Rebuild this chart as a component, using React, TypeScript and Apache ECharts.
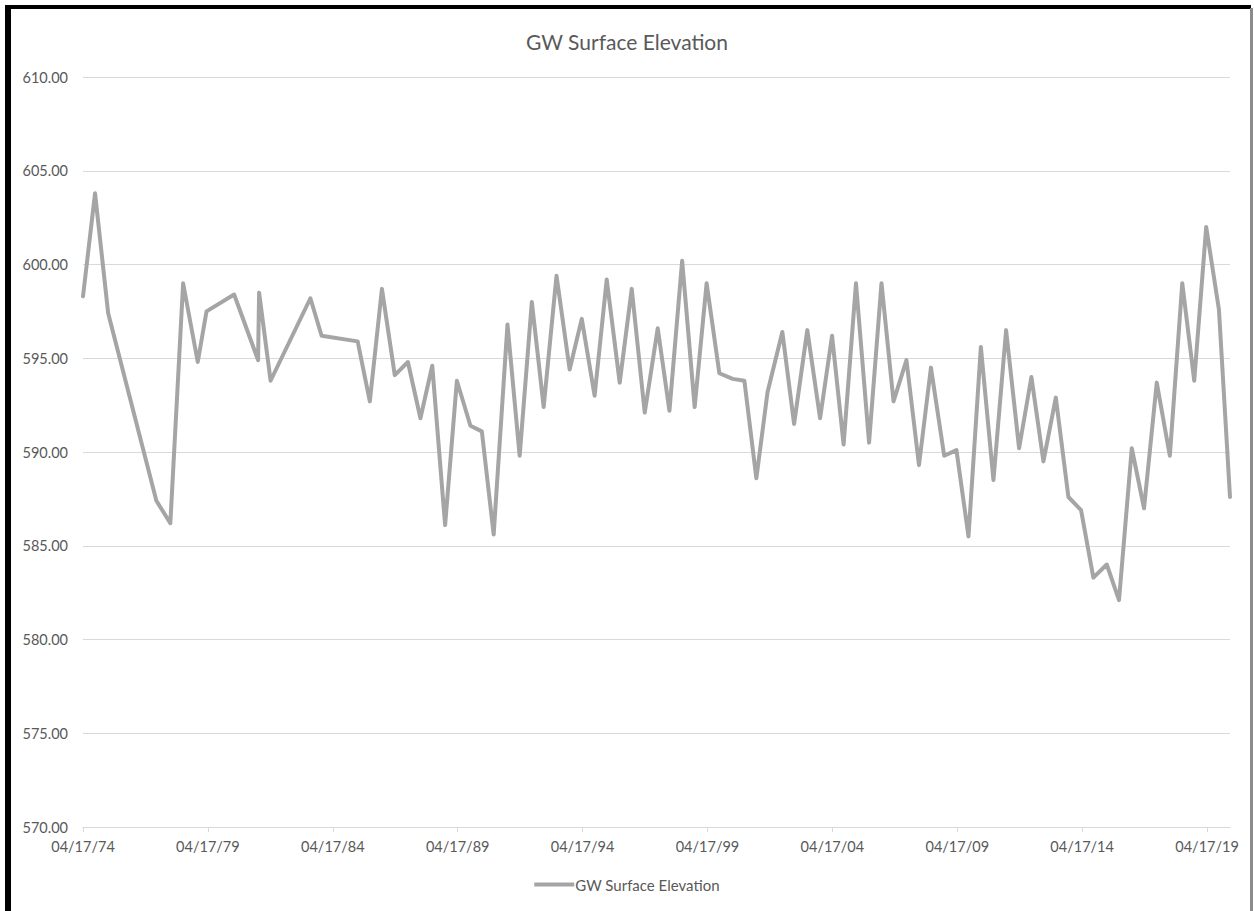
import React, { useEffect, useRef } from "react";
import * as echarts from "echarts";

const TITLE = "GW Surface Elevation";
const SERIES_NAME = "GW Surface Elevation";

const dates: string[] = [
  "1974-04-17", "1974-10-10", "1975-04-20", "1977-03-25", "1977-10-15",
  "1978-04-20", "1978-11-20", "1979-03-28", "1980-05-05", "1981-04-20",
  "1981-05-05", "1981-10-20", "1983-05-25", "1983-11-05", "1985-04-15",
  "1985-10-10", "1986-04-05", "1986-10-10", "1987-04-20", "1987-10-20",
  "1988-04-10", "1988-10-15", "1989-04-05", "1989-10-20", "1990-04-05",
  "1990-09-25", "1991-04-15", "1991-10-10", "1992-04-05", "1992-09-25",
  "1993-04-01", "1993-10-10", "1994-04-05", "1994-10-10", "1995-04-05",
  "1995-10-12", "1996-04-05", "1996-10-12", "1997-04-20", "1997-10-08",
  "1998-04-12", "1998-10-12", "1999-04-05", "1999-10-08", "2000-04-20",
  "2000-10-08", "2001-04-01", "2001-09-12", "2002-04-16", "2002-10-05",
  "2003-04-16", "2003-10-20", "2004-04-12", "2004-09-28", "2005-03-28",
  "2005-10-05", "2006-04-05", "2006-09-28", "2007-04-05", "2007-10-05",
  "2008-03-28", "2008-10-08", "2009-04-05", "2009-09-28", "2010-03-28",
  "2010-09-28", "2011-04-01", "2011-10-08", "2012-04-05", "2012-09-28",
  "2013-03-28", "2013-09-28", "2014-04-01", "2014-09-28", "2015-04-12",
  "2015-10-08", "2016-04-12", "2016-10-08", "2017-04-12", "2017-10-20",
  "2018-04-20", "2018-10-12", "2019-04-05", "2019-10-08", "2020-03-18",
];

const elevations: number[] = [
  598.3, 603.8, 597.4, 587.4, 586.2,
  599.0, 594.8, 597.5, 598.4, 594.9,
  598.5, 593.8, 598.2, 596.2, 595.9,
  592.7, 598.7, 594.1, 594.8, 591.8,
  594.6, 586.1, 593.8, 591.4, 591.1,
  585.6, 596.8, 589.8, 598.0, 592.4,
  599.4, 594.4, 597.1, 593.0, 599.2,
  593.7, 598.7, 592.1, 596.6, 592.2,
  600.2, 592.4, 599.0, 594.2, 593.9,
  593.8, 588.6, 593.2, 596.4, 591.5,
  596.5, 591.8, 596.2, 590.4, 599.0,
  590.5, 599.0, 592.7, 594.9, 589.3,
  594.5, 589.8, 590.1, 585.5, 595.6,
  588.5, 596.5, 590.2, 594.0, 589.5,
  592.9, 587.6, 586.9, 583.3, 584.0,
  582.1, 590.2, 587.0, 593.7, 589.8,
  599.0, 593.8, 602.0, 597.6, 587.6,
];

// x tick labels every 5 years from the axis start date
const xTickLabels: string[] = [
  "04/17/74", "04/17/79", "04/17/84", "04/17/89", "04/17/94",
  "04/17/99", "04/17/04", "04/17/09", "04/17/14", "04/17/19",
];
const yTicks: number[] = [570, 575, 580, 585, 590, 595, 600, 605, 610];

const AXIS_START = "1974-04-17";
const YEAR_MS = 365.25 * 86400000;

function toYears(d: string): number {
  return (Date.parse(d) - Date.parse(AXIS_START)) / YEAR_MS;
}

export default function App() {
  const ref = useRef<HTMLDivElement>(null);

  useEffect(() => {
    if (!ref.current) return;
    const chart = echarts.init(ref.current, undefined, { renderer: "svg" });
    const data = dates.map((d, i) => [toYears(d), elevations[i]]);
    const tickVals = xTickLabels.map((_, i) => i * 5);
    const xMax = toYears(dates[dates.length - 1]);
    const font = "Lato";
    const textColor = "#595959";

    chart.setOption({
      animation: false,
      backgroundColor: "#ffffff",
      title: {
        text: TITLE,
        left: "center",
        top: 26,
        textStyle: {
          fontFamily: font,
          fontSize: 21,
          fontWeight: "normal",
          color: textColor,
        },
      },
      legend: {
        show: true,
        bottom: 14,
        left: "center",
        icon: "rect",
        itemWidth: 40,
        itemHeight: 4,
        itemGap: 10,
        textStyle: { fontFamily: font, fontSize: 15, color: textColor, padding: [0, 0, 0, -4] },
        data: [SERIES_NAME],
      },
      grid: { left: 83, right: 24, top: 77, bottom: 84 },
      xAxis: {
        type: "value",
        min: 0,
        max: xMax,
        axisLine: { show: true, lineStyle: { color: "#d9d9d9", width: 1 } },
        axisTick: {
          show: true,
          length: 5,
          lineStyle: { color: "#d9d9d9" },
          customValues: tickVals,
        },
        splitLine: { show: false },
        axisLabel: {
          customValues: tickVals,
          formatter: (v: number) => xTickLabels[Math.round(v / 5)] ?? "",
          fontFamily: font,
          fontSize: 14.5,
          color: textColor,
          margin: 12,
        },
      },
      yAxis: {
        type: "value",
        min: yTicks[0],
        max: yTicks[yTicks.length - 1],
        interval: 5,
        axisLine: { show: false },
        axisTick: { show: false },
        splitLine: { show: true, lineStyle: { color: "#d9d9d9", width: 1 } },
        axisLabel: {
          formatter: (v: number) => v.toFixed(2),
          fontFamily: font,
          fontSize: 14.5,
          color: textColor,
          margin: 15,
        },
      },
      series: [
        {
          name: SERIES_NAME,
          type: "line",
          data,
          showSymbol: false,
          symbol: "none",
          lineStyle: { color: "#a5a5a5", width: 4, cap: "round", join: "round" },
          itemStyle: { color: "#a5a5a5" },
        },
      ],
      graphic: [
        { type: "rect", shape: { x: 5, y: 5, width: 6, height: 906 }, style: { fill: "#000000" }, silent: true },
        { type: "rect", shape: { x: 5, y: 5, width: 1246, height: 4 }, style: { fill: "#000000" }, silent: true },
        { type: "rect", shape: { x: 1250, y: 8, width: 3, height: 903 }, style: { fill: "#8c8c8c" }, silent: true },
      ],
    });

    return () => chart.dispose();
  }, []);

  return (
    <div
      ref={ref}
      style={{ position: "absolute", left: 0, top: 0, width: 1254, height: 911 }}
    />
  );
}
